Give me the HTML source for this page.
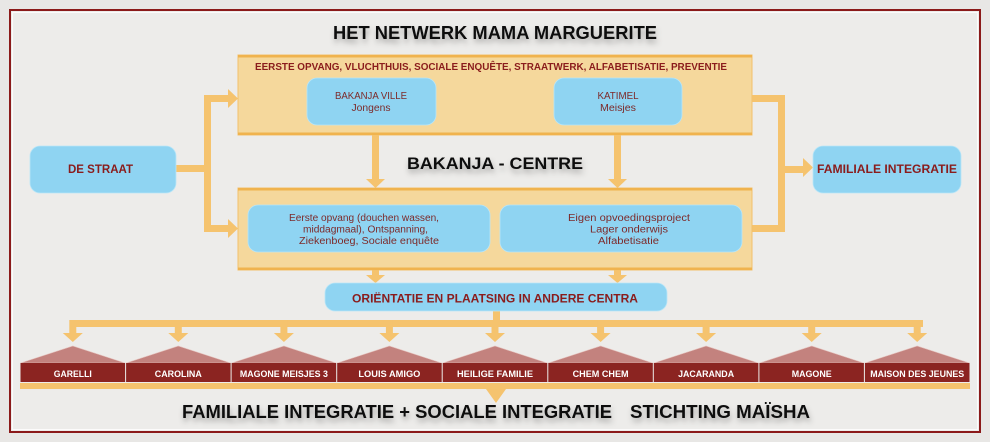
<!DOCTYPE html>
<html><head><meta charset="utf-8"><style>
html,body{margin:0;padding:0;background:#e8e7e5;}
svg{display:block}
text{font-family:"Liberation Sans",Arial,sans-serif;}
.b{font-weight:bold}
</style></head><body>
<svg width="990" height="442" viewBox="0 0 990 442" xmlns="http://www.w3.org/2000/svg">
<defs>
<filter id="sh" x="-10%" y="-60%" width="120%" height="240%"><feDropShadow dx="1" dy="4" stdDeviation="3" flood-color="#000" flood-opacity="0.3"/></filter>
</defs>
<rect width="990" height="442" fill="#e8e7e5"/>
<rect x="10" y="10" width="970" height="422" fill="#edecea" stroke="#8b1a1a" stroke-width="2"/>
<rect x="12.5" y="12.5" width="965" height="417" fill="none" stroke="#ffffff" stroke-width="1" opacity="0.8"/>

<!-- title -->
<text x="495" y="39" font-size="18" class="b" text-anchor="middle" textLength="324" lengthAdjust="spacingAndGlyphs" fill="#111" filter="url(#sh)">HET NETWERK MAMA MARGUERITE</text>

<!-- top orange box -->
<rect x="238" y="55" width="514" height="80" fill="#f5d89c" stroke="#f3c06a" stroke-width="1"/>
<rect x="238" y="55" width="514" height="2.5" fill="#f0b34e"/>
<rect x="238" y="132.5" width="514" height="2.5" fill="#f0b34e"/>
<text x="491" y="70" font-size="10" class="b" text-anchor="middle" textLength="472" lengthAdjust="spacingAndGlyphs" fill="#8a1c1c">EERSTE OPVANG, VLUCHTHUIS, SOCIALE ENQUÊTE, STRAATWERK, ALFABETISATIE, PREVENTIE</text>

<rect x="307" y="78" width="129" height="47" rx="10" fill="#8fd4f2" stroke="#b9e5f7" stroke-width="0.8"/>
<text x="371" y="99" font-size="10" text-anchor="middle" textLength="72" lengthAdjust="spacingAndGlyphs" fill="#7d2a2a">BAKANJA VILLE</text>
<text x="371" y="111" font-size="10" text-anchor="middle" textLength="39" lengthAdjust="spacingAndGlyphs" fill="#7d2a2a">Jongens</text>

<rect x="554" y="78" width="128" height="47" rx="10" fill="#8fd4f2" stroke="#b9e5f7" stroke-width="0.8"/>
<text x="618" y="99" font-size="10" text-anchor="middle" textLength="41" lengthAdjust="spacingAndGlyphs" fill="#7d2a2a">KATIMEL</text>
<text x="618" y="111" font-size="10" text-anchor="middle" textLength="36" lengthAdjust="spacingAndGlyphs" fill="#7d2a2a">Meisjes</text>

<!-- arrows & connectors -->
<g fill="#f5c36e">
  <rect x="176" y="165" width="35" height="7"/>
  <rect x="204" y="95" width="7" height="137"/>
  <rect x="204" y="95" width="25" height="7"/>
  <polygon points="228,89 228,108 238,98.5"/>
  <rect x="204" y="225" width="25" height="7"/>
  <polygon points="228,219 228,238 238,228.5"/>
  <rect x="752" y="95" width="33" height="7"/>
  <rect x="778" y="95" width="7" height="137"/>
  <rect x="752" y="225" width="33" height="7"/>
  <rect x="785" y="166" width="19" height="7"/>
  <polygon points="803,158 803,177 813,167.5"/>
  <rect x="372" y="135" width="7" height="45"/>
  <polygon points="366,179 385,179 375.5,188"/>
  <rect x="614" y="135" width="7" height="45"/>
  <polygon points="608,179 627,179 617.5,188"/>
  <rect x="372" y="270" width="7" height="6"/>
  <polygon points="366,275 385,275 375.5,283"/>
  <rect x="614" y="270" width="7" height="6"/>
  <polygon points="608,275 627,275 617.5,283"/>
  <rect x="493" y="311" width="7" height="12"/>
  <rect x="70" y="320" width="853" height="7"/>
  <rect x="69.3" y="320" width="7" height="14"/><polygon points="62.8,333 82.8,333 72.8,342"/>
  <rect x="174.8" y="320" width="7" height="14"/><polygon points="168.3,333 188.3,333 178.3,342"/>
  <rect x="280.4" y="320" width="7" height="14"/><polygon points="273.9,333 293.9,333 283.9,342"/>
  <rect x="385.9" y="320" width="7" height="14"/><polygon points="379.4,333 399.4,333 389.4,342"/>
  <rect x="491.5" y="320" width="7" height="14"/><polygon points="485,333 505,333 495,342"/>
  <rect x="597.1" y="320" width="7" height="14"/><polygon points="590.6,333 610.6,333 600.6,342"/>
  <rect x="702.6" y="320" width="7" height="14"/><polygon points="696.1,333 716.1,333 706.1,342"/>
  <rect x="808.2" y="320" width="7" height="14"/><polygon points="801.7,333 821.7,333 811.7,342"/>
  <rect x="913.7" y="320" width="7" height="14"/><polygon points="907.2,333 927.2,333 917.2,342"/>
  <rect x="20" y="383" width="950" height="6"/>
  <rect x="492.5" y="388" width="7" height="5"/>
  <polygon points="486,389 506,389 496,403"/>
</g>

<!-- DE STRAAT -->
<rect x="30" y="146" width="146" height="47" rx="10" fill="#8fd4f2" stroke="#b9e5f7" stroke-width="0.8"/>
<text x="100.5" y="173" font-size="12" class="b" text-anchor="middle" textLength="65" lengthAdjust="spacingAndGlyphs" fill="#8a1c1c">DE STRAAT</text>

<!-- BAKANJA - CENTRE -->
<text x="495" y="169" font-size="17" class="b" text-anchor="middle" textLength="176" lengthAdjust="spacingAndGlyphs" fill="#111" filter="url(#sh)">BAKANJA - CENTRE</text>

<!-- FAMILIALE INTEGRATIE -->
<rect x="813" y="146" width="148" height="47" rx="10" fill="#8fd4f2" stroke="#b9e5f7" stroke-width="0.8"/>
<text x="887" y="173" font-size="11.5" class="b" text-anchor="middle" textLength="140" lengthAdjust="spacingAndGlyphs" fill="#8a1c1c">FAMILIALE INTEGRATIE</text>

<!-- bottom orange box -->
<rect x="238" y="188" width="514" height="82" fill="#f5d89c" stroke="#f3c06a" stroke-width="1"/>
<rect x="238" y="188" width="514" height="2.5" fill="#f0b34e"/>
<rect x="238" y="267.5" width="514" height="2.5" fill="#f0b34e"/>

<rect x="248" y="205" width="242" height="47" rx="10" fill="#8fd4f2" stroke="#b9e5f7" stroke-width="0.8"/>
<text x="364" y="221" font-size="10" text-anchor="middle" textLength="150" lengthAdjust="spacingAndGlyphs" fill="#7d2a2a">Eerste opvang (douchen wassen,</text>
<text x="365.5" y="232.5" font-size="10" text-anchor="middle" textLength="125" lengthAdjust="spacingAndGlyphs" fill="#7d2a2a">middagmaal), Ontspanning,</text>
<text x="369" y="244" font-size="10" text-anchor="middle" textLength="140" lengthAdjust="spacingAndGlyphs" fill="#7d2a2a">Ziekenboeg, Sociale enquête</text>

<rect x="500" y="205" width="242" height="47" rx="10" fill="#8fd4f2" stroke="#b9e5f7" stroke-width="0.8"/>
<text x="629" y="221" font-size="10" text-anchor="middle" textLength="122" lengthAdjust="spacingAndGlyphs" fill="#7d2a2a">Eigen opvoedingsproject</text>
<text x="629" y="232.5" font-size="10" text-anchor="middle" textLength="78" lengthAdjust="spacingAndGlyphs" fill="#7d2a2a">Lager onderwijs</text>
<text x="628.5" y="244" font-size="10" text-anchor="middle" textLength="61" lengthAdjust="spacingAndGlyphs" fill="#7d2a2a">Alfabetisatie</text>

<!-- ORIENTATIE -->
<rect x="325" y="283" width="342" height="28" rx="10" fill="#8fd4f2" stroke="#b9e5f7" stroke-width="0.8"/>
<text x="495" y="302.5" font-size="12" class="b" text-anchor="middle" textLength="286" lengthAdjust="spacingAndGlyphs" fill="#8a1c1c">ORIËNTATIE EN PLAATSING IN ANDERE CENTRA</text>

<!-- houses -->
<g fill="#c3827e" stroke="#e6c4bf" stroke-width="0.6">
  <polygon points="20.5,363 72.8,346 125.1,363"/>
  <polygon points="126.1,363 178.3,346 230.6,363"/>
  <polygon points="231.6,363 283.9,346 336.2,363"/>
  <polygon points="337.2,363 389.4,346 441.7,363"/>
  <polygon points="442.7,363 495,346 547.3,363"/>
  <polygon points="548.3,363 600.6,346 652.8,363"/>
  <polygon points="653.8,363 706.1,346 758.4,363"/>
  <polygon points="759.4,363 811.7,346 863.9,363"/>
  <polygon points="864.9,363 917.2,346 969.5,363"/>
</g>
<g fill="#8b2421">
  <rect x="20.5" y="363" width="104.6" height="19"/>
  <rect x="126.1" y="363" width="104.5" height="19"/>
  <rect x="231.6" y="363" width="104.6" height="19"/>
  <rect x="337.2" y="363" width="104.5" height="19"/>
  <rect x="442.7" y="363" width="104.6" height="19"/>
  <rect x="548.3" y="363" width="104.5" height="19"/>
  <rect x="653.8" y="363" width="104.6" height="19"/>
  <rect x="759.4" y="363" width="104.5" height="19"/>
  <rect x="864.9" y="363" width="104.6" height="19"/>
</g>
<g font-size="9" class="b" text-anchor="middle" fill="#ffffff" font-weight="bold">
  <text x="72.8" y="377" textLength="38" lengthAdjust="spacingAndGlyphs">GARELLI</text>
  <text x="178.3" y="377" textLength="47" lengthAdjust="spacingAndGlyphs">CAROLINA</text>
  <text x="283.9" y="377" textLength="88" lengthAdjust="spacingAndGlyphs">MAGONE MEISJES 3</text>
  <text x="389.4" y="377" textLength="62" lengthAdjust="spacingAndGlyphs">LOUIS AMIGO</text>
  <text x="495" y="377" textLength="76" lengthAdjust="spacingAndGlyphs">HEILIGE FAMILIE</text>
  <text x="600.6" y="377" textLength="56" lengthAdjust="spacingAndGlyphs">CHEM CHEM</text>
  <text x="706.1" y="377" textLength="56" lengthAdjust="spacingAndGlyphs">JACARANDA</text>
  <text x="811.7" y="377" textLength="40" lengthAdjust="spacingAndGlyphs">MAGONE</text>
  <text x="917.2" y="377" textLength="94" lengthAdjust="spacingAndGlyphs">MAISON DES JEUNES</text>
</g>

<!-- bottom text -->
<text x="182" y="418" font-size="18" class="b" textLength="430" lengthAdjust="spacingAndGlyphs" fill="#111" filter="url(#sh)">FAMILIALE INTEGRATIE + SOCIALE INTEGRATIE</text>
<text x="630" y="418" font-size="18" class="b" textLength="180" lengthAdjust="spacingAndGlyphs" fill="#111" filter="url(#sh)">STICHTING MAÏSHA</text>
</svg>
</body></html>
